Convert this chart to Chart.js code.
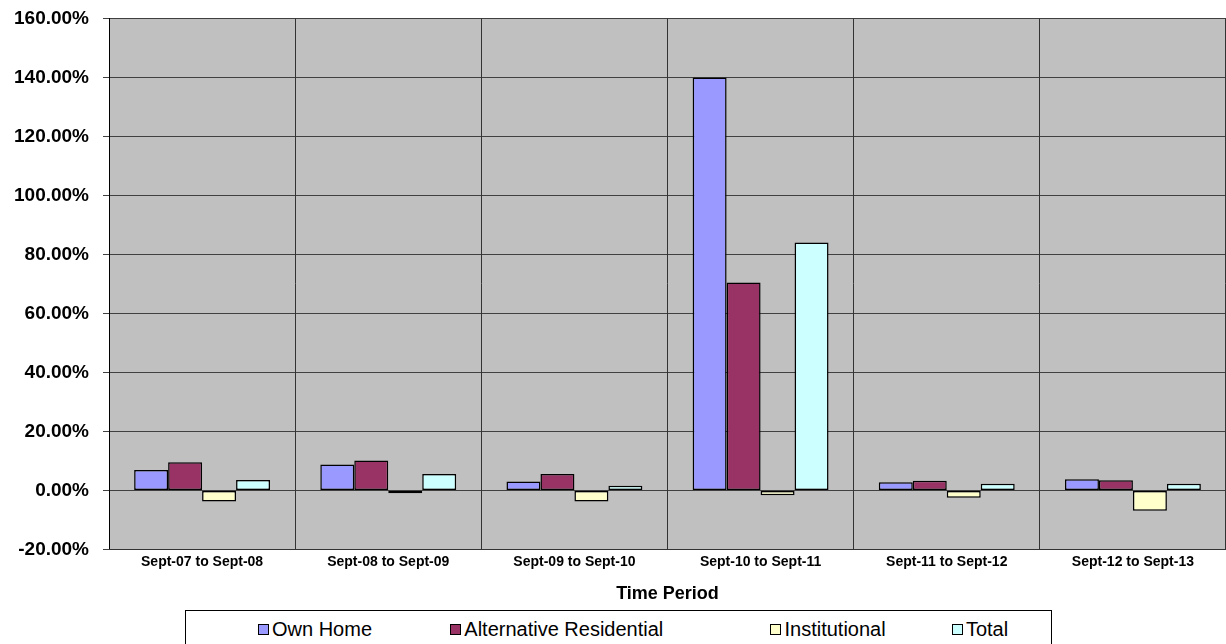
<!DOCTYPE html>
<html>
<head>
<meta charset="utf-8">
<script src="https://cdn.jsdelivr.net/npm/chart.js@4.4.1/dist/chart.umd.min.js"></script>
<style>
  body { margin: 0; background: #fff; font-family: "Liberation Sans", Arial, sans-serif; }
  #wrap { position: relative; width: 1226px; height: 644px; overflow: hidden; }
  #box { position: absolute; left: 0; top: -7px; width: 1226px; height: 615px; }
  #legend { position: absolute; left: 185px; top: 610px; width: 867px; height: 44px;
            border: 1px solid #000; box-sizing: border-box; display: flex; align-items: flex-start;
            padding-left: 72px; padding-top: 7px; }
  .item { display: flex; align-items: center; font-size: 20px; color: #000; white-space: nowrap; }
  .sw { width: 9px; height: 9px; border: 1px solid #000; margin-right: 3px; }
</style>
</head>
<body>
<div id="wrap">
  <div id="box"><canvas id="myChart"></canvas></div>
  <div id="legend"></div>
</div>
<script>
var periods = ['Sept-07 to Sept-08', 'Sept-08 to Sept-09', 'Sept-09 to Sept-10',
               'Sept-10 to Sept-11', 'Sept-11 to Sept-12', 'Sept-12 to Sept-13'];
var ownHome = [7.0, 8.8, 3.1, 140.0, 2.8, 3.8];
var altResidential = [9.6, 10.2, 5.6, 70.5, 3.3, 3.5];
var institutional = [-3.7, -0.9, -3.7, -1.6, -2.4, -6.8];
var total = [3.6, 5.6, 1.6, 84.1, 2.3, 2.3];
var yTicks = [-20, 0, 20, 40, 60, 80, 100, 120, 140, 160];

// legend column widths (px) so the items sit like the original
var legendCols = [194, 323, 183, 100];

const ctx1 = document.getElementById('myChart').getContext('2d');

// grey plot area
const plotBg = {
  id: 'plotBg',
  beforeDraw(chart) {
    const a = chart.chartArea;
    const c = chart.ctx;
    c.save();
    c.fillStyle = '#C0C0C0';
    c.fillRect(a.left, a.top, a.right - a.left, a.bottom - a.top);
    c.restore();
  }
};

// html legend with a border box under the chart
const htmlLegend = {
  id: 'htmlLegend',
  afterUpdate(chart) {
    const el = document.getElementById('legend');
    el.innerHTML = '';
    const items = chart.options.plugins.legend.labels.generateLabels(chart);
    items.forEach((it, i) => {
      const d = document.createElement('div');
      d.className = 'item';
      d.style.width = legendCols[i] + 'px';
      const s = document.createElement('span');
      s.className = 'sw';
      s.style.background = it.fillStyle;
      d.appendChild(s);
      d.appendChild(document.createTextNode(it.text));
      el.appendChild(d);
    });
  }
};

function ds(label, data, color) {
  return {
    label: label,
    data: data,
    backgroundColor: color,
    borderColor: '#000',
    borderWidth: 1.5,
    borderSkipped: false,
    categoryPercentage: 0.73,
    barPercentage: 1.0
  };
}

var graph = new Chart(ctx1, {
  type: 'bar',
  data: {
    labels: periods,
    datasets: [
      ds('Own Home', ownHome, '#9999FF'),
      ds('Alternative Residential', altResidential, '#993366'),
      ds('Institutional', institutional, '#FFFFCC'),
      ds('Total', total, '#CCFFFF')
    ]
  },
  options: {
    responsive: true,
    maintainAspectRatio: false,
    animation: false,
    layout: { padding: { left: 0, right: 0, top: 2, bottom: 3 } },
    plugins: {
      legend: { display: false },
      tooltip: { enabled: false }
    },
    scales: {
      y: {
        min: -20,
        max: 160,
        afterBuildTicks: function(axis) {
          axis.ticks = yTicks.map(v => ({ value: v }));
        },
        ticks: {
          color: '#000',
          padding: 14,
          font: { family: '"Liberation Sans", Arial', size: 19, weight: 'bold' },
          callback: function(v) { return v.toFixed(2) + '%'; }
        },
        grid: { color: '#404040', lineWidth: 1, tickLength: 6 },
        border: { color: '#000', width: 1 }
      },
      x: {
        ticks: {
          color: '#000',
          padding: 4,
          maxRotation: 0,
          autoSkip: false,
          font: { family: '"Liberation Sans", Arial', size: 14, weight: 'bold' }
        },
        grid: { color: '#333', lineWidth: 1, drawTicks: false, offset: true },
        border: { color: '#333', width: 1 },
        title: {
          display: true,
          text: 'Time Period',
          color: '#000',
          padding: { top: 9, bottom: 0 },
          font: { family: '"Liberation Sans", Arial', size: 18, weight: 'bold' }
        }
      }
    }
  },
  plugins: [plotBg, htmlLegend]
});
</script>
</body>
</html>
